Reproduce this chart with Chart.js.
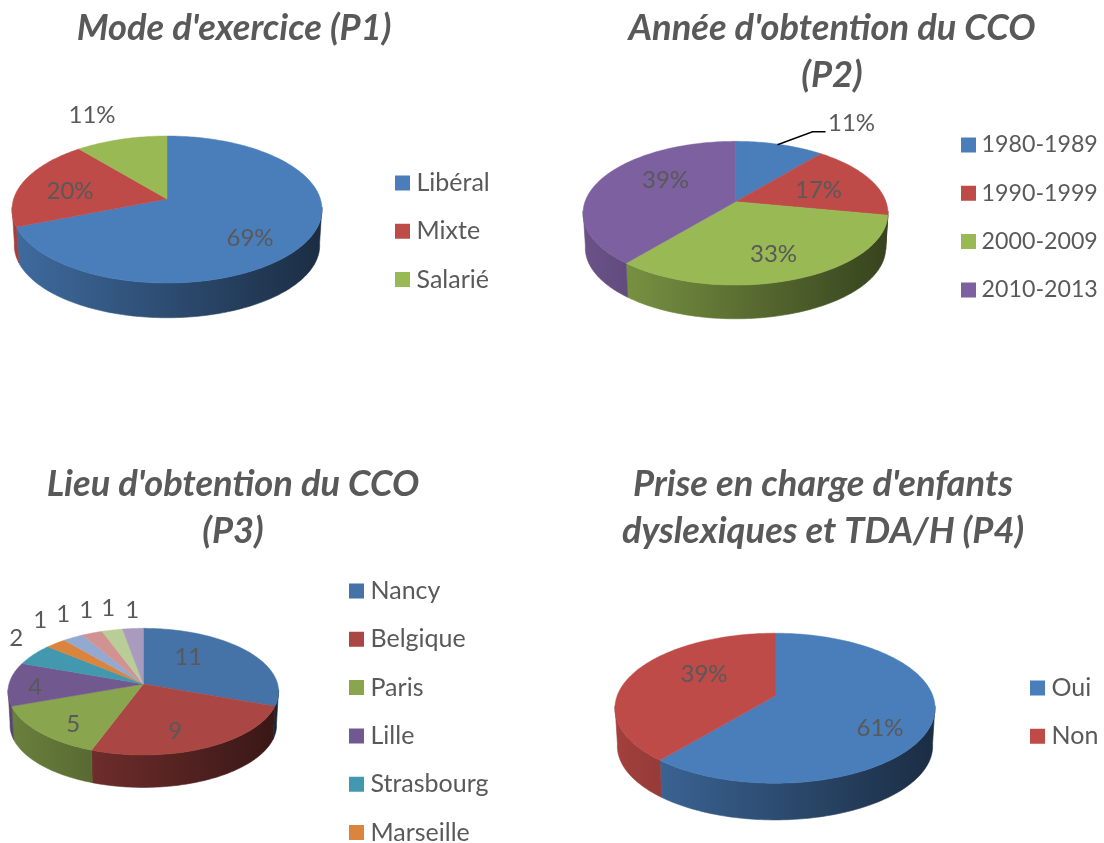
<!DOCTYPE html>
<html lang="fr">
<head>
<meta charset="utf-8">
<script src="https://cdn.jsdelivr.net/npm/chart.js@4"></script>
<style>
html,body{margin:0;padding:0;background:#fff;width:1104px;height:843px;overflow:hidden}
canvas{position:absolute;display:block}
</style>
</head>
<body>
<canvas id="p1" width="552" height="430" style="left:0;top:0"></canvas>
<canvas id="p2" width="552" height="430" style="left:552px;top:0"></canvas>
<canvas id="p3" width="552" height="413" style="left:0;top:430px"></canvas>
<canvas id="p4" width="552" height="413" style="left:552px;top:430px"></canvas>
<script>
// ---- data ----
const p1Categories = ['Libéral', 'Mixte', 'Salarié'];
const p1Values = [69, 20, 11];
const p2Categories = ['1980-1989', '1990-1999', '2000-2009', '2010-2013'];
const p2Values = [11, 17, 33, 39];
// the last four legend entries of P3 are cut off by the bottom of the picture
const p3Categories = ['Nancy', 'Belgique', 'Paris', 'Lille', 'Strasbourg', 'Marseille', '', '', '', ''];
const p3Values = [11, 9, 5, 4, 2, 1, 1, 1, 1, 1];
const p4Categories = ['Oui', 'Non'];
const p4Values = [61, 39];

// ---- styles ----
const officeColors = ['#4A7EBB', '#BE4B48', '#98B954', '#7D60A0'];
const p3Colors = ['#4572A7', '#AA4643', '#89A54E', '#71588F', '#4198AF', '#DB843D', '#93A9CF', '#D19392', '#B9CD96', '#A99BBD'];
const TEXT = '#595959';
const FONT = 'Lato, Carlito, Calibri, sans-serif';
const LABEL_SIZE = 24;
const TITLE_SIZE = 36.3;
const TITLE_LH = 47;
const BOX_W = 3;

class Pie3DController extends Chart.PieController {
  project(angle, g, a) {
    const x = Math.cos(angle), y = Math.sin(angle), s = 1 / (1 - g.k * y);
    return [a.x + a.outerRadius * x * s, a.y + g.ry * y * s];
  }
  draw() {
    const ctx = this.chart.ctx, g = this.chart.options.plugins.pie3d;
    const arcs = this._cachedMeta.data;
    const t0 = Math.asin(g.k) - 0.03, t1 = Math.PI - t0;
    ctx.save();
    arcs.forEach((a) => {
      const s = Math.max(a.startAngle, t0), e = Math.min(a.endAngle, t1);
      if (e <= s) return;
      const n = Math.max(2, Math.ceil((e - s) / 0.02));
      const left = a.x - a.outerRadius, w = 2 * a.outerRadius;
      const c = a.options.backgroundColor;
      const grad = ctx.createLinearGradient(left, 0, left + w, 0);
      grad.addColorStop(0, shade(c, g.wallLeft));
      grad.addColorStop(1, shade(c, g.wallRight));
      ctx.beginPath();
      for (let i = 0; i <= n; i++) {
        const p = this.project(s + (e - s) * i / n, g, a);
        i ? ctx.lineTo(p[0], p[1]) : ctx.moveTo(p[0], p[1]);
      }
      for (let i = n; i >= 0; i--) {
        const p = this.project(s + (e - s) * i / n, g, a);
        ctx.lineTo(a.x + (p[0] - a.x) * 0.985, a.y + (p[1] - a.y) * 0.985 + g.depth);
      }
      ctx.closePath();
      ctx.fillStyle = grad;
      ctx.strokeStyle = grad;
      ctx.lineWidth = 0.6;
      ctx.fill();
      ctx.stroke();
    });
    arcs.forEach((a) => {
      const n = Math.max(2, Math.ceil((a.endAngle - a.startAngle) / 0.02));
      ctx.beginPath();
      ctx.moveTo(a.x, a.y);
      for (let i = 0; i <= n; i++) {
        const p = this.project(a.startAngle + (a.endAngle - a.startAngle) * i / n, g, a);
        ctx.lineTo(p[0], p[1]);
      }
      ctx.closePath();
      ctx.fillStyle = a.options.backgroundColor;
      ctx.strokeStyle = a.options.backgroundColor;
      ctx.lineWidth = 0.5;
      ctx.fill();
      ctx.stroke();
    });
    ctx.restore();
  }
}
Pie3DController.id = 'pie3d';
Chart.register(Pie3DController);

function shade(hex, f) {
  const n = parseInt(hex.slice(1), 16);
  return 'rgb(' + [(n >> 16) & 255, (n >> 8) & 255, n & 255].map(v => Math.round(v * f)).join(',') + ')';
}

// moves the library's title, legend and pie to where the reference has them
const placer = {
  id: 'placer',
  afterLayout(chart) {
    const L = chart.options.plugins.placer;
    const t = chart.titleBlock, lg = chart.legend;
    t.left = L.titleX - 300; t.right = L.titleX + 300;
    t.top = L.titleY - TITLE_LH / 2; t.bottom = t.top + 100;
    const labelsOpt = chart.options.plugins.legend.labels;
    const pad = labelsOpt.padding;
    lg.left = L.legendX + 7.5 - BOX_W / 2 - pad;
    lg.top = L.legendY - labelsOpt.font.size / 2 - pad;
    lg.right = lg.left + 200;
    lg.bottom = lg.top + 2000;
    const r = 150;
    chart.chartArea = {left: L.cx - r, right: L.cx + r, top: L.cy - r, bottom: L.cy + r, width: 2 * r, height: 2 * r};
  }
};
// value labels, with optional leader lines
const valueLabels = {
  id: 'valueLabels',
  afterDatasetsDraw(chart) {
    const o = chart.options.plugins.valueLabels;
    const data = chart.data.datasets[0].data;
    const arcs = chart.getDatasetMeta(0).data;
    const ctx = chart.ctx;
    ctx.save();
    (o.leaders || []).forEach((pts) => {
      ctx.beginPath();
      pts.forEach((p, i) => i ? ctx.lineTo(arcs[0].x + p[0], arcs[0].y + p[1]) : ctx.moveTo(arcs[0].x + p[0], arcs[0].y + p[1]));
      ctx.strokeStyle = '#000';
      ctx.lineWidth = 1.5;
      ctx.stroke();
    });
    ctx.font = LABEL_SIZE + 'px ' + FONT;
    ctx.fillStyle = TEXT;
    ctx.textAlign = 'center';
    ctx.textBaseline = 'middle';
    arcs.forEach((a, i) => {
      ctx.fillText(data[i] + o.suffix, a.x + o.offsets[i][0], a.y + o.offsets[i][1]);
    });
    ctx.restore();
  }
};

function makeChart(id, origin, title, categories, values, colors, geom, place, labels) {
  const legendSize = place.legendSize || 25;
  new Chart(document.getElementById(id), {
    type: 'pie3d',
    data: {
      labels: categories,
      datasets: [{data: values, backgroundColor: colors, borderWidth: 0, radius: geom.rx, clip: false}]
    },
    plugins: [placer, valueLabels],
    options: {
      responsive: false,
      animation: false,
      events: [],
      layout: {padding: 0},
      plugins: {
        pie3d: Object.assign({wallLeft: 0.85, wallRight: 0.36}, geom),
        placer: {
          cx: place.cx - origin[0], cy: place.cy - origin[1],
          titleX: place.titleX - origin[0], titleY: place.titleY - origin[1],
          legendX: place.legendX - origin[0], legendY: place.legendY - origin[1]
        },
        valueLabels: labels,
        tooltip: {enabled: false},
        title: {
          display: true, text: title, color: TEXT, padding: 0, align: 'center',
          font: {family: FONT, size: TITLE_SIZE, weight: 'bold', style: 'italic', lineHeight: TITLE_LH / TITLE_SIZE}
        },
        legend: {
          display: true, position: 'right', align: 'start',
          labels: {
            color: TEXT, usePointStyle: true, pointStyle: 'rect', boxWidth: BOX_W, boxHeight: 15,
            padding: 48.3 - legendSize, font: {family: FONT, size: legendSize},
            filter: (item) => item.text !== ''
          }
        }
      }
    }
  });
}

makeChart('p1', [0, 0], "Mode d'exercice (P1)", p1Categories, p1Values, officeColors,
  {rx: 153.4, ry: 72, k: 0.143, depth: 36},
  {cx: 167, cy: 199, titleX: 234, titleY: 28, legendX: 395, legendY: 183},
  {suffix: '%', offsets: [[83, 39], [-97, -8], [-75, -84]]});

makeChart('p2', [552, 0], ["Année d'obtention du CCO", '(P2)'], p2Categories, p2Values, officeColors,
  {rx: 150.5, ry: 70, k: 0.16, depth: 35},
  {cx: 735.5, cy: 201.7, titleX: 832, titleY: 28, legendX: 961, legendY: 145, legendSize: 23.2},
  {suffix: '%', offsets: [[116, -78], [83, -11], [38, 53], [-70, -21]], leaders: [[[42, -57], [77, -70], [90, -70]]]});

makeChart('p3', [0, 430], ["Lieu d'obtention du CCO", '(P3)'], p3Categories, p3Values, p3Colors,
  {rx: 134.3, ry: 62.4, k: 0.121, depth: 33.5, wallLeft: 0.78, wallRight: 0.33},
  {cx: 143.3, cy: 684, titleX: 233, titleY: 484, legendX: 349, legendY: 591},
  {suffix: '', offsets: [[45, -27], [32, 47], [-70, 40], [-108, 3], [-127, -46], [-103, -64], [-80, -70], [-57, -74], [-35, -76], [-11, -74]]});

makeChart('p4', [552, 430], ["Prise en charge d'enfants", 'dyslexiques et TDA/H (P4)'], p4Categories, p4Values, officeColors,
  {rx: 157.9, ry: 73, k: 0.163, depth: 38},
  {cx: 775, cy: 696, titleX: 823, titleY: 484, legendX: 1030, legendY: 688},
  {suffix: '%', offsets: [[105, 32], [-71, -22]]});
</script>
</body>
</html>
